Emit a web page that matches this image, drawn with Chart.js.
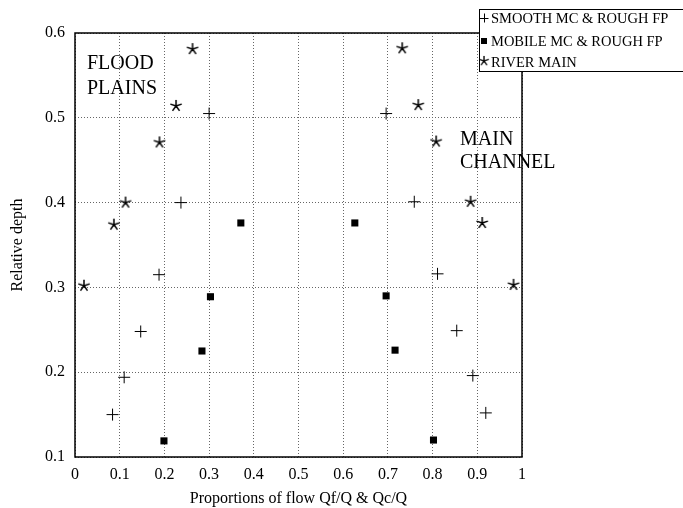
<!DOCTYPE html>
<html>
<head>
<meta charset="utf-8">
<script src="https://cdn.jsdelivr.net/npm/chart.js@4/dist/chart.umd.min.js"></script>
<style>
  html, body { margin: 0; padding: 0; background: #fff; }
  #wrap { width: 683px; height: 508px; position: relative; }
</style>
</head>
<body>
<div id="wrap"><canvas id="grafica"></canvas></div>
<script>
// datos
const xTicks = [0, 0.1, 0.2, 0.3, 0.4, 0.5, 0.6, 0.7, 0.8, 0.9, 1];
const yTicks = [0.1, 0.2, 0.3, 0.4, 0.5, 0.6];

const smoothX = [0.084, 0.110, 0.147, 0.188, 0.237, 0.300, 0.696, 0.759, 0.811, 0.854, 0.890, 0.919];
const smoothY = [0.150, 0.194, 0.248, 0.315, 0.400, 0.505, 0.505, 0.401, 0.316, 0.249, 0.196, 0.152];

const mobileX = [0.199, 0.284, 0.303, 0.371, 0.626, 0.696, 0.716, 0.802];
const mobileY = [0.119, 0.225, 0.289, 0.376, 0.376, 0.290, 0.226, 0.120];

const riverX = [0.020, 0.087, 0.113, 0.189, 0.226, 0.263, 0.732, 0.768, 0.808, 0.885, 0.911, 0.981];
const riverY = [0.302, 0.374, 0.400, 0.471, 0.514, 0.581, 0.582, 0.515, 0.472, 0.401, 0.376, 0.303];

const nombres = ["SMOOTH MC & ROUGH FP", "MOBILE MC & ROUGH FP", "RIVER MAIN"];

const fuente = "'Liberation Serif', 'DejaVu Serif', serif";

function puntos(xs, ys) {
  return xs.map((x, i) => ({ x: x, y: ys[i] }));
}

// asterisco de 5 brazos
function hacerEstrella(tam) {
  const c = document.createElement("canvas");
  c.width = tam; c.height = tam;
  const ctx = c.getContext("2d");
  ctx.strokeStyle = "#000";
  ctx.lineWidth = 1.5;
  const r = tam / 2 - 1;
  ctx.beginPath();
  for (let k = 0; k < 5; k++) {
    const a = -Math.PI / 2 + k * 2 * Math.PI / 5;
    ctx.moveTo(tam / 2, tam / 2);
    ctx.lineTo(tam / 2 + r * Math.cos(a), tam / 2 + r * Math.sin(a));
  }
  ctx.stroke();
  return c;
}
const estrella = hacerEstrella(14);

function dibujarMarca(ctx, tipo, x, y) {
  ctx.save();
  ctx.strokeStyle = "#000";
  ctx.fillStyle = "#000";
  ctx.lineWidth = 1;
  if (tipo === 0) {
    ctx.beginPath();
    ctx.moveTo(x - 4.5, y + 0.5); ctx.lineTo(x + 4.5, y + 0.5);
    ctx.moveTo(x + 0.5, y - 4.5); ctx.lineTo(x + 0.5, y + 4.5);
    ctx.stroke();
  } else if (tipo === 1) {
    ctx.fillRect(x - 3, y - 3, 6, 6);
  } else {
    ctx.drawImage(estrella, x - 6, y - 7, 12, 12);
  }
  ctx.restore();
}

const textosPlugin = {
  id: "textos",
  afterDraw(chart) {
    const ctx = chart.ctx;
    ctx.save();
    ctx.fillStyle = "#000";
    ctx.font = "20px " + fuente;
    ctx.textBaseline = "middle";
    ctx.textAlign = "left";
    ctx.fillText("FLOOD", 87, 64);
    ctx.fillText("PLAINS", 87, 89);
    ctx.fillText("MAIN", 460, 140);
    ctx.fillText("CHANNEL", 460, 163);

    // leyenda
    ctx.fillStyle = "#fff";
    ctx.fillRect(479, 9, 210, 63);
    ctx.strokeStyle = "#000";
    ctx.lineWidth = 1;
    ctx.strokeRect(479.5, 9.5, 210, 62);
    ctx.font = "14.5px " + fuente;
    const filas = [18, 41, 62];
    nombres.forEach((n, i) => {
      dibujarMarca(ctx, i, 484, filas[i]);
      ctx.fillStyle = "#000";
      ctx.fillText(n, 491, filas[i] + 1);
    });
    ctx.restore();
  }
};

const rejilla = { color: "#666", lineWidth: 1, drawTicks: false, tickLength: 0 };
const borde = { display: false, dash: [1, 2] };

const configuracion = {
  type: "scatter",
  data: {
    datasets: [
      {
        label: nombres[0],
        data: puntos(smoothX, smoothY),
        pointStyle: "cross",
        radius: 6,
        borderColor: "#000",
        borderWidth: 1
      },
      {
        label: nombres[1],
        data: puntos(mobileX, mobileY),
        pointStyle: "rect",
        radius: 5,
        backgroundColor: "#000",
        borderColor: "#000",
        borderWidth: 0
      },
      {
        label: nombres[2],
        data: puntos(riverX, riverY),
        pointStyle: estrella,
        radius: 7
      }
    ]
  },
  options: {
    responsive: true,
    maintainAspectRatio: false,
    animation: false,
    events: [],
    layout: { padding: { left: 0, right: 161, top: 33, bottom: 0 } },
    plugins: {
      legend: { display: false },
      tooltip: { enabled: false }
    },
    scales: {
      x: {
        type: "linear",
        min: 0,
        max: 1,
        afterBuildTicks: (s) => { s.ticks = xTicks.map(v => ({ value: v })); },
        afterFit: (s) => { s.height = 51; },
        ticks: {
          color: "#000",
          font: { family: fuente, size: 16 },
          padding: 8,
          maxRotation: 0,
          callback: (v) => (v === 0 || v === 1) ? String(v) : v.toFixed(1)
        },
        grid: rejilla,
        border: borde,
        title: {
          display: true,
          text: "Proportions of flow Qf/Q & Qc/Q",
          color: "#000",
          font: { family: fuente, size: 16 },
          padding: { top: 0, bottom: 0 }
        }
      },
      y: {
        type: "linear",
        min: 0.1,
        max: 0.6,
        afterBuildTicks: (s) => { s.ticks = yTicks.map(v => ({ value: v })); },
        afterFit: (s) => { s.width = 75; },
        ticks: {
          color: "#000",
          font: { family: fuente, size: 16 },
          padding: 10,
          callback: (v) => v.toFixed(1)
        },
        grid: rejilla,
        border: borde,
        title: {
          display: true,
          text: "Relative depth",
          color: "#000",
          font: { family: fuente, size: 16 },
          padding: { top: 8, bottom: 0 }
        }
      }
    }
  },
  plugins: [
    {
      id: "marco",
      afterDatasetsDraw(chart) {
        const a = chart.chartArea;
        const ctx = chart.ctx;
        ctx.save();
        ctx.strokeStyle = "#000";
        ctx.lineWidth = 1.5;
        ctx.strokeRect(a.left, a.top, a.right - a.left, a.bottom - a.top);
        ctx.restore();
      }
    },
    textosPlugin
  ]
};

const graficaDOM = document.querySelector("#grafica");
const grafica = new Chart(graficaDOM, configuracion);
</script>
</body>
</html>
